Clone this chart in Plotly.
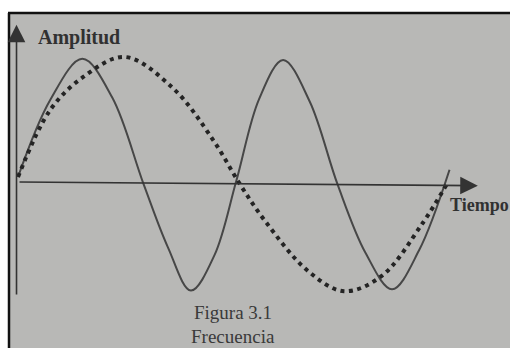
import plotly.graph_objects as go

# Solid wave: two cycles over the time span (time units, amplitude units)
solid_t = [0.0, 0.75, 1.5, 2.2, 2.93, 3.5, 4.03, 4.58, 5.09, 5.62, 6.18,
           6.8, 7.45, 8.1, 8.72, 9.35, 10.06]
solid_a = [0.41, 6.72, 10.1, 6.9, -0.2, -5.4, -8.9, -6.0, 0.1, 6.8, 10.0,
           6.6, -0.2, -5.8, -8.8, -5.6, 1.0]

# Dotted wave: one cycle over the same span
dotted_t = [0.0, 0.75, 1.52, 2.49, 3.61, 4.55, 5.17, 5.76, 6.76, 7.6, 8.48, 9.42, 10.0]
dotted_a = [0.41, 5.9, 8.61, 10.25, 7.7, 3.44, -0.16, -3.2, -7.3, -8.95, -7.7, -3.44, -0.16]

W, H = 510, 348
X_RANGE = [-0.42, 11.47]
Y_RANGE = [-13.61, 14.92]

fig = go.Figure()
fig.add_trace(go.Scatter(
    x=solid_t, y=solid_a, mode="lines",
    line=dict(color="#474747", width=2, shape="spline", smoothing=1.0),
    hoverinfo="skip", showlegend=False))
fig.add_trace(go.Scatter(
    x=dotted_t, y=dotted_a, mode="lines",
    line=dict(color="#242424", width=4, dash="4px,4.5px", shape="spline", smoothing=1.0),
    hoverinfo="skip", showlegend=False))


def px(xp):
    return xp / W


def py(yp):
    return 1 - yp / H


shapes = [
    # page background and frame
    dict(type="rect", xref="paper", yref="paper", x0=px(9), x1=1, y0=0, y1=py(13),
         fillcolor="#b8b8b6", line=dict(width=0), layer="below"),
    dict(type="line", xref="paper", yref="paper", x0=px(8), x1=1, y0=py(13), y1=py(13),
         line=dict(color="#111111", width=2.5)),
    dict(type="line", xref="paper", yref="paper", x0=px(9), x1=px(9), y0=0, y1=py(13),
         line=dict(color="#111111", width=2.5)),
]

annotations = [
    # vertical axis with arrow
    dict(x=-0.035, y=12.9, ax=-0.035, ay=-9.34, xref="x", yref="y", axref="x", ayref="y",
         text="", showarrow=True, arrowhead=2, arrowsize=2.2, arrowwidth=1.6,
         arrowcolor="#333333", standoff=0, startstandoff=0),
    # horizontal axis with arrow
    dict(x=10.72, y=-0.3, ax=0.0, ay=0.0, xref="x", yref="y", axref="x", ayref="y",
         text="", showarrow=True, arrowhead=2, arrowsize=2.2, arrowwidth=1.6,
         arrowcolor="#333333", standoff=0, startstandoff=0),
    dict(x=px(36), y=py(37), xref="paper", yref="paper", xanchor="left", yanchor="middle",
         text="<b>Amplitud</b>", showarrow=False,
         font=dict(family="Liberation Serif", size=20, color="#313131")),
    dict(x=px(448), y=py(205), xref="paper", yref="paper", xanchor="left", yanchor="middle",
         text="<b>Tiempo</b>", showarrow=False,
         font=dict(family="Liberation Serif", size=18, color="#313131")),
    dict(x=px(233), y=py(312), xref="paper", yref="paper", xanchor="center", yanchor="middle",
         text="Figura 3.1", showarrow=False,
         font=dict(family="Liberation Serif", size=19, color="#3a3a3a")),
    dict(x=px(233), y=py(336), xref="paper", yref="paper", xanchor="center", yanchor="middle",
         text="Frecuencia", showarrow=False,
         font=dict(family="Liberation Serif", size=19, color="#3a3a3a")),
]

fig.update_layout(
    width=W, height=H,
    margin=dict(l=0, r=0, t=0, b=0),
    paper_bgcolor="#ffffff",
    plot_bgcolor="rgba(0,0,0,0)",
    xaxis=dict(range=X_RANGE, visible=False, fixedrange=True),
    yaxis=dict(range=Y_RANGE, visible=False, fixedrange=True),
    shapes=shapes,
    annotations=annotations,
)

fig.write_html("out.html")
